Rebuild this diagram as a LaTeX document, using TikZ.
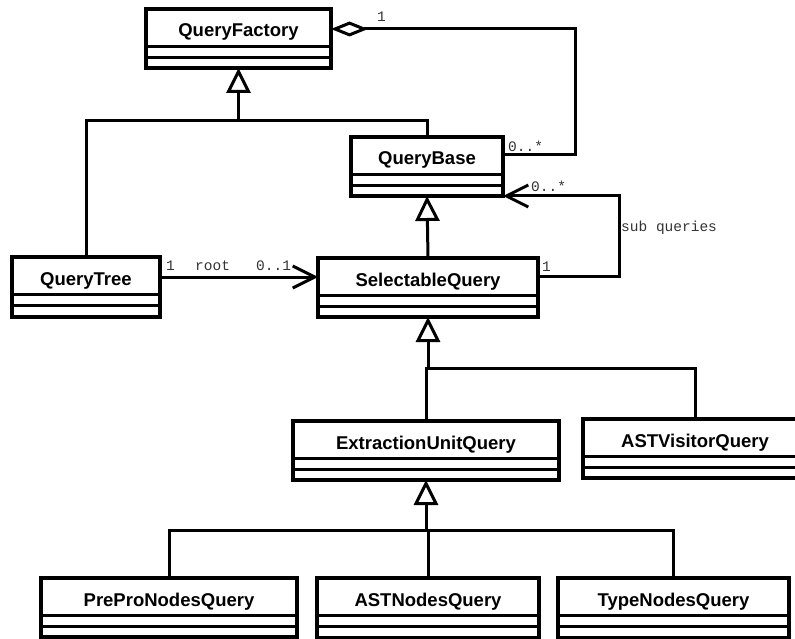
\documentclass[tikz,border=0pt]{standalone}
\usepackage{fontspec}
\setmainfont{Liberation Sans}
\newfontfamily\labelfont{Liberation Mono}
\usetikzlibrary{arrows.meta}

\tikzset{
  classbox/.style={draw, line width=3.1pt, inner sep=0pt, outer sep=0pt, rectangle, fill=white},
  classname/.style={font=\fontsize{18.5}{20}\selectfont\bfseries, inner sep=0pt, anchor=base},
  compline/.style={line width=3.1pt},
  conn/.style={line width=3pt},
  gen/.style={conn, -{Triangle[open, length=25pt, width=24pt]}},
  navi/.style={conn, -{Straight Barb[length=22pt, width=22pt]}},
  aggr/.style={conn, {Diamond[open, length=37pt, width=15pt]}-},
  mult/.style={font=\labelfont\fontsize{14.5}{16}\selectfont, text=black!80, inner sep=0pt, anchor=base west},
}

% UML class box: name, left, top, width, height, title
\newcommand\umlclass[6]{%
  \node[classbox, minimum width=#4pt, minimum height=#5pt, anchor=north west] (#1) at (#2,#3) {};
  \node[classname] (#1-name) at ([yshift=-28pt]#1.north) {#6};
  \draw[compline] ([yshift=-37.5pt]#1.north west) -- ([yshift=-37.5pt]#1.north east);
  \draw[compline] ([yshift=-48.5pt]#1.north west) -- ([yshift=-48.5pt]#1.north east);
}

\begin{document}
\begin{tikzpicture}[x=1pt, y=-1pt]
\useasboundingbox (0,0) rectangle (795,639);
\clip (0,0) rectangle (795,639);

% classes
\umlclass{qf}{146}{9}{185}{59}{QueryFactory}
\umlclass{qb}{351}{137}{152}{59}{QueryBase}
\umlclass{qt}{12}{257}{148}{60}{QueryTree}
\umlclass{sq}{318}{258}{220}{59}{SelectableQuery}
\umlclass{eu}{293}{421}{266}{59}{ExtractionUnitQuery}
\umlclass{av}{583}{419}{224}{59}{ASTVisitorQuery}
\umlclass{pp}{41}{578}{256}{59}{PreProNodesQuery}
\umlclass{an}{317}{578}{222}{60}{ASTNodesQuery}
\umlclass{tn}{558}{578}{231}{60}{TypeNodesQuery}

% generalization: QueryTree, QueryBase -> QueryFactory
\coordinate (j1) at (qf.south |- 0,121);
\draw[gen] (j1) -- (qf.south);
\draw[conn] (qt.north) |- (j1) -| (qb.north);

% generalization: SelectableQuery -> QueryBase
\draw[gen] (sq.north) -- (qb.south);

% generalization: ExtractionUnitQuery, ASTVisitorQuery -> SelectableQuery
\coordinate (j2) at (sq.south |- 0,368);
\draw[gen] (j2) -- (sq.south);
\draw[conn] (eu.north) |- (j2) -| (av.north);

% generalization: node queries -> ExtractionUnitQuery
\coordinate (j3) at (eu.south |- 0,530);
\draw[gen] (j3) -- (eu.south);
\draw[conn] (pp.north) |- (j3) -| (tn.north);
\draw[conn] (an.north) -- (an.north |- j3);

% aggregation QueryFactory <>-- QueryBase
\coordinate (aggs) at ([yshift=-20pt]qf.north east);
\coordinate (aggc) at (575,29);
\coordinate (agge) at ([yshift=-18pt]qb.north east);
\draw[aggr] (aggs) -- (aggc) |- (agge);
\node[mult] (m-qf) at (377,22) {1};
\node[mult] (m-qb) at (508,152) {0..*};

% association QueryTree -> SelectableQuery
\coordinate (roots) at ([yshift=-20pt]qt.north east);
\draw[navi] (roots) -- (roots -| sq.west);
\node[mult] (m-qt) at (166,270) {1};
\node[mult] (l-root) at (195,270) {root};
\node[mult] (m-sq) at (256,270) {0..1};

% self association: sub queries
\coordinate (subs) at ([yshift=-18pt]sq.north east);
\path (qb.south east) ++(116,0) coordinate (subc);
\draw[navi] (subs) -| (subc) -- (qb.south east);
\node[mult] (m-sub) at (531,192) {0..*};
\node[mult] (l-sub) at (621,232) {sub queries};
\node[mult] (m-sq1) at (542,271) {1};
\end{tikzpicture}
\end{document}
